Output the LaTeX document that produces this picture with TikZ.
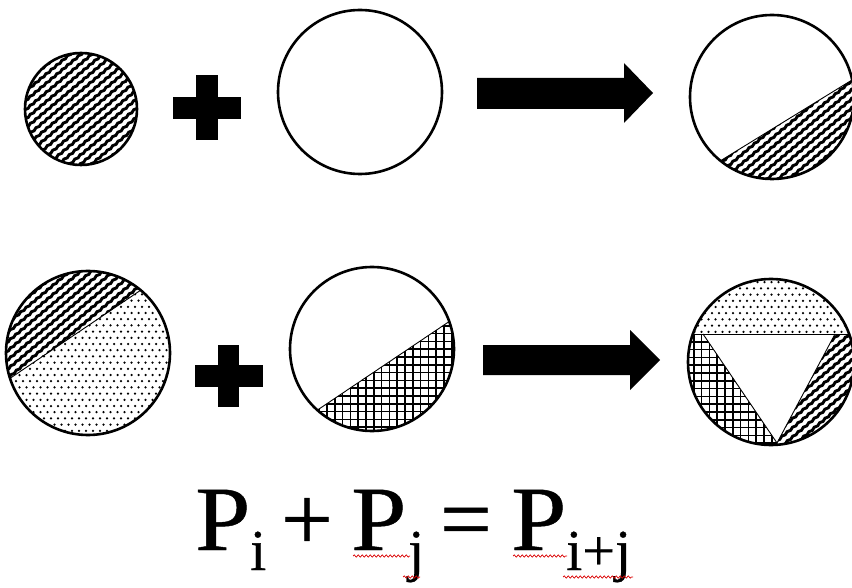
\documentclass[tikz,border=0pt]{standalone}
\usepackage{fontspec}
\setmainfont{Liberation Serif}
\newfontfamily\eqfont[FakeBold=0.5]{Liberation Serif}
\usetikzlibrary{decorations.pathmorphing}
\newcommand{\hatchlines}[2]{\foreach \k in {-16,...,16}{\draw[hatchline] ({#1+\k*10.9-105},{#2+88}) -- ({#1+\k*10.9+105},{#2-88});}}
\newcommand{\dotfield}[4]{\foreach \r in {0,...,#4}{\foreach \c in {0,...,#3}{\fill ({#1+\c*7+3.5*mod(\r,2)},{#2+\r*6.2}) circle[radius=1.25pt];}}}
\newcommand{\gridfield}[4]{\foreach \i in {0,...,#3}{\draw[gridline] ({#1+\i*7.8},{#2}) -- ({#1+\i*7.8},{#2+#4*7.8});}\foreach \i in {0,...,#4}{\draw[gridline] ({#1},{#2+\i*7.8}) -- ({#1+#3*7.8},{#2+\i*7.8});}}
\newcommand{\wideP}{\scalebox{1.08}[1]{P}}
\begin{document}
\begin{tikzpicture}[x=1pt,y=-1pt,
  ring/.style={draw=black,line width=2.6pt},
  hatchline/.style={line width=2.9pt,decorate,decoration={snake,amplitude=0.6pt,segment length=7pt}},
  gridline/.style={line width=1.5pt},
  chordline/.style={line width=0.9pt},
  blockfill/.style={fill=black},
  spell/.style={draw=red!85!black,line width=0.7pt,decorate,decoration={snake,amplitude=1.1pt,segment length=4pt}},
  eqbig/.style={inner sep=0pt,font=\eqfont\fontsize{92}{92}\selectfont},
  eqsub/.style={inner sep=0pt,font=\eqfont\fontsize{58}{58}\selectfont}]
\useasboundingbox (0,0) rectangle (852,588);

% ---------- row 1 ----------
% circle 1 : fully hatched
\coordinate (c1) at (81,109);
\begin{scope}
  \clip (c1) circle[radius=56];
  \hatchlines{81}{109}
\end{scope}
\draw[ring] (c1) circle[radius=56];

% plus 1
\fill[blockfill] (173,97) rectangle (241,119);
\fill[blockfill] (196,75) rectangle (218,140);

% circle 2 : empty
\coordinate (c2) at (360,92);
\draw[ring] (c2) circle[radius=82];

% arrow 1
\fill[blockfill] (477,78) -- (624,78) -- (624,63) -- (653,93) -- (624,123) -- (624,109) -- (477,109) -- cycle;

% circle 3 : hatched below chord
\coordinate (c3) at (772,97);
\begin{scope}
  \clip (c3) circle[radius=82];
  \clip (598,236) -- (979,2) -- (979,300) -- (598,300) -- cycle;
  \hatchlines{772}{120}
\end{scope}
\begin{scope}
  \clip (c3) circle[radius=82];
  \draw[chordline] (598,236) -- (979,2);
\end{scope}
\draw[ring] (c3) circle[radius=82];

% ---------- row 2 ----------
% circle 4 : hatched above chord, dotted below
\coordinate (c4) at (88,353);
\begin{scope}
  \clip (c4) circle[radius=82];
  \clip (-108,458) -- (261,209) -- (261,200) -- (-108,200) -- cycle;
  \hatchlines{88}{320}
\end{scope}
\begin{scope}
  \clip (c4) circle[radius=82];
  \clip (-108,458) -- (261,209) -- (261,500) -- (-108,500) -- cycle;
  \dotfield{2}{282}{25}{27}
\end{scope}
\begin{scope}
  \clip (c4) circle[radius=82];
  \draw[chordline] (-108,458) -- (261,209);
\end{scope}
\draw[ring] (c4) circle[radius=82];

% plus 2
\fill[blockfill] (195,365) rectangle (263,387);
\fill[blockfill] (218,345) rectangle (239,407);

% circle 5 : cross-hatched below chord
\coordinate (c5) at (372,349);
\begin{scope}
  \clip (c5) circle[radius=82];
  \clip (197,491) -- (572,239) -- (572,500) -- (197,500) -- cycle;
  \gridfield{288}{318}{22}{16}
\end{scope}
\begin{scope}
  \clip (c5) circle[radius=82];
  \draw[chordline] (197,491) -- (572,239);
\end{scope}
\draw[ring] (c5) circle[radius=82];

% arrow 2
\fill[blockfill] (483,345) -- (630,345) -- (630,330) -- (660,360) -- (630,390) -- (630,375) -- (483,375) -- cycle;

% circle 6 : dots on top, cross-hatch left, hatch right, white triangle
\coordinate (c6) at (771,362);
\begin{scope}
  \clip (c6) circle[radius=83];
  \clip (680,250) rectangle (860,334);
  \dotfield{684}{276}{25}{10}
\end{scope}
\begin{scope}
  \clip (c6) circle[radius=83];
  \clip (680,334) -- (703,334) -- (788.5,460) -- (680,460) -- cycle;
  \gridfield{686}{334}{14}{15}
\end{scope}
\begin{scope}
  \clip (c6) circle[radius=83];
  \clip (835,334) -- (860,334) -- (860,460) -- (768,460) -- cycle;
  \hatchlines{810}{395}
\end{scope}
\begin{scope}
  \clip (c6) circle[radius=83];
  \draw[chordline] (680,334) -- (860,334);
  \draw[chordline] (703,334) -- (777,443) -- (835,334);
\end{scope}
\draw[ring] (c6) circle[radius=83];

% ---------- formula ----------
\node[eqbig,anchor=base west] (p1) at (195,550) {\wideP};
\node[eqsub,anchor=base west] (s1) at (250,570) {i};
\node[eqbig,anchor=base] (pl) at (307,550) {+};
\node[eqbig,anchor=base west] (p2) at (351,550) {\wideP};
\node[eqsub,anchor=base west] (s2) at (408,570) {j};
\node[eqbig,anchor=base] (eq) at (466,550) {=};
\node[eqbig,anchor=base west] (p3) at (511,550) {\wideP};
\node[eqsub,anchor=base west] (s3) at (566,570) {i+j};

% spell-check underlines
\draw[spell] (353,556) -- (410,556);
\draw[spell] (403,577) -- (420,577);
\draw[spell] (513,556) -- (567,556);
\draw[spell] (563,577) -- (633,577);
\end{tikzpicture}
\end{document}
